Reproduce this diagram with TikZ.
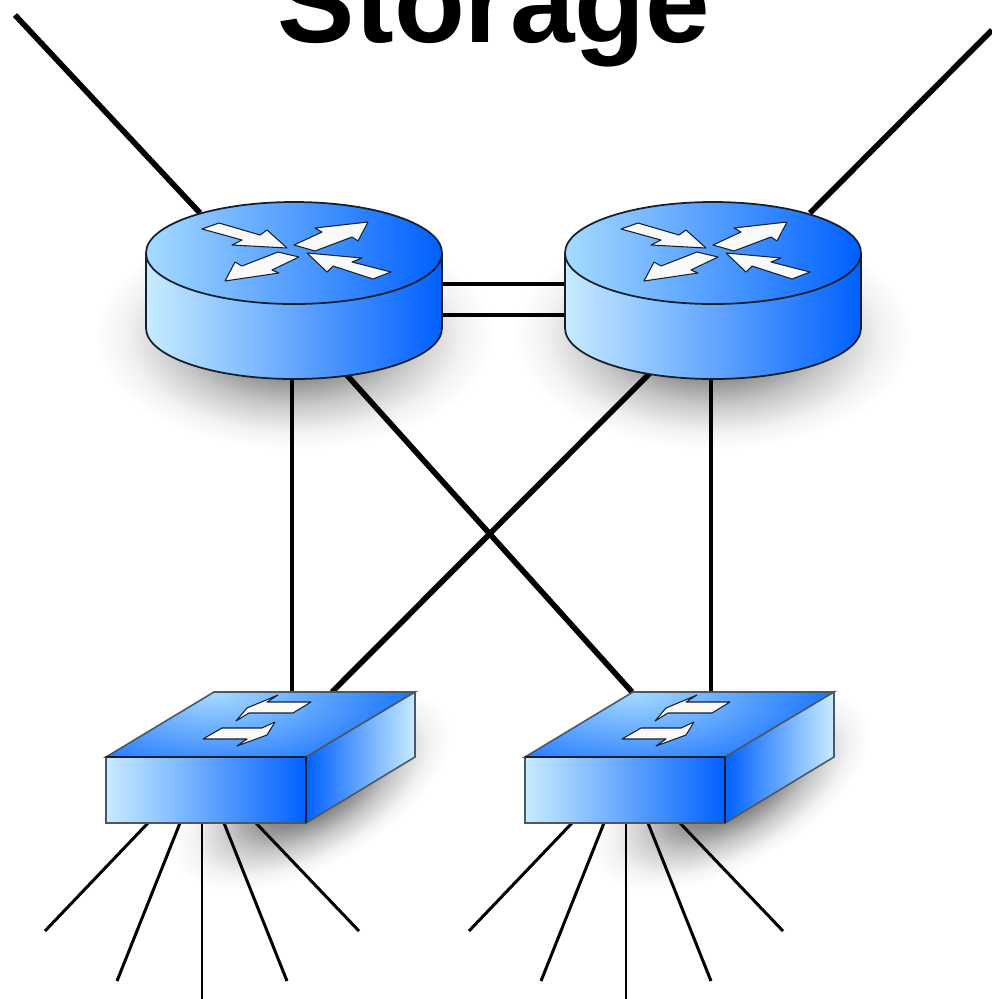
\documentclass[tikz,border=0pt]{standalone}
\usepackage{fontspec}
\setmainfont{Liberation Sans}
\usetikzlibrary{backgrounds}

\definecolor{lightblue}{HTML}{C8ECFF}
\definecolor{topblue}{HTML}{A6DAFF}
\definecolor{midblue}{HTML}{5FA8FF}
\definecolor{deepblue}{HTML}{0060FF}
\definecolor{edgegray}{HTML}{14202C}
\definecolor{swedge}{HTML}{4A5866}

\pgfdeclareradialshading{softshadow}{\pgfpointorigin}{
    color(0bp)=(black!52); color(9bp)=(black!46); color(15bp)=(black!22);
    color(21bp)=(black!5); color(25bp)=(white); color(50bp)=(white)}

\tikzset{
    thickwire/.style={line width=1.6pt, black},
    midwire/.style={line width=1.0pt, black},
    thinwire/.style={line width=0.85pt, black},
    devline/.style={draw=edgegray, line width=0.5pt},
    swline/.style={draw=swedge, line width=0.45pt},
    whitearrow/.style={fill=white!98!black, draw=edgegray, line width=0.3pt, line join=round},
    pics/router/.style={code={
        % body
        \path[devline, left color=lightblue, middle color=midblue, right color=deepblue]
            (-148,0) -- (-148,75) arc[start angle=180, end angle=0, x radius=148, y radius=51]
            -- (148,0) -- cycle;
        % top
        \path[devline, left color=topblue, middle color=midblue, right color=deepblue]
            (0,0) ellipse[x radius=148, y radius=51];
        % arrows
        \path[whitearrow] (-92,-24) -- (-75,-30) -- (-34,-18) -- (-27,-23) -- (-7,-5) -- (-62,-8) -- (-52,-13) -- cycle;
        \path[whitearrow] (0,-8) -- (28,-21) -- (21,-25) -- (74,-31) -- (64,-12) -- (58,-16) -- (21,-2) -- cycle;
        \path[whitearrow] (5,4) -- (-22,17) -- (-15,20) -- (-69,28) -- (-59,9) -- (-52,13) -- (-16,-1) -- cycle;
        \path[whitearrow] (13,0) -- (68,5) -- (58,9) -- (97,19) -- (79,26) -- (39,13) -- (33,19) -- cycle;
        % ports
        \coordinate (-nw) at (-94,-40);
        \coordinate (-ne) at (97,-40);
        \coordinate (-s) at (-2,124);
        \coordinate (-sw) at (-63,120);
        \coordinate (-se) at (51,120);
        \coordinate (-e1) at (148,31);
        \coordinate (-e2) at (148,62);
        \coordinate (-w1) at (-148,31);
        \coordinate (-w2) at (-148,62);
    }},
    pics/switch/.style={code={
        % top
        \begin{scope}
            \clip (0,0) -- (108,-65) -- (309,-65) -- (200,0) -- cycle;
            \fill[deepblue] (0,0) rectangle (309,-65);
            \shade[inner color=topblue, outer color=deepblue] (108,-65) ellipse[x radius=240, y radius=105];
        \end{scope}
        \draw[swline] (0,0) -- (108,-65) -- (309,-65) -- (200,0) -- cycle;
        % front
        \path[swline, left color=lightblue, middle color=midblue, right color=deepblue]
            (0,0) rectangle (200,66);
        % side
        \path[swline, left color=deepblue, middle color=midblue, right color=lightblue]
            (200,0) -- (309,-65) -- (309,0) -- (200,66) -- cycle;
        \draw[devline] (0,0) -- (200,0) -- (200,66);
        % arrows
        \path[whitearrow] (130,-36) -- (141,-49) -- (172,-62) -- (161,-55) -- (205,-55) -- (187,-44) -- (143,-44) -- cycle;
        \path[whitearrow] (97,-18) -- (116,-29) -- (156,-29) -- (169,-35) -- (161,-22) -- (131,-11) -- (141,-18) -- cycle;
        % ports
        \coordinate (-t1) at (186,-65);
        \coordinate (-t2) at (226,-65);
        \coordinate (-t3) at (107,-65);
    }}
}

\begin{document}
\begin{tikzpicture}[x=0.01cm, y=-0.01cm]
    \clip (0,0) rectangle (992,999);

    % title
    \node[anchor=base, inner sep=0pt, font=\fontsize{33}{33}\selectfont\bfseries] (title) at (494,42) {Storage};

    % devices
    \pic (rtrA) at (294,253) {router};
    \pic (rtrB) at (713,253) {router};
    \pic (swA) at (106,757) {switch};
    \pic (swB) at (525,757) {switch};

    % free ends
    \coordinate (wanA) at (15,15);
    \coordinate (wanB) at (992,30);

    \begin{scope}[on background layer]
        % shadows
        \shade[shading=softshadow] (294,335) ellipse[x radius=200, y radius=115];
        \shade[shading=softshadow] (713,335) ellipse[x radius=200, y radius=115];
        \shade[shading=softshadow, transform canvas={rotate around={30:(312,790)}}] (312,790) ellipse[x radius=155, y radius=75];
        \shade[shading=softshadow, transform canvas={rotate around={30:(731,790)}}] (731,790) ellipse[x radius=155, y radius=75];

        % wires
        \draw[thickwire] (wanA) -- (rtrA-nw);
        \draw[thickwire] (wanB) -- (rtrB-ne);
        \draw[midwire] (rtrA-e1) -- (rtrB-w1);
        \draw[midwire] (rtrA-e2) -- (rtrB-w2);
        \draw[midwire] (rtrA-s) -- (swA-t1);
        \draw[midwire] (rtrB-s) -- (swB-t1);
        \draw[thickwire] (rtrA-se) -- (swB-t3);
        \draw[thickwire] (rtrB-sw) -- (swA-t2);

        % fans
        \foreach \n/\px/\ex/\ey in {1/148/45/931, 2/180/117/981, 3/202/202/999, 4/224/287/981, 5/256/359/931} {
            \coordinate (fanA\n) at (\px,823);
            \coordinate (leafA\n) at (\ex,\ey);
            \draw[thinwire] (fanA\n) -- (leafA\n);
            \coordinate (fanB\n) at (\px+424,823);
            \coordinate (leafB\n) at (\ex+424,\ey);
            \draw[thinwire] (fanB\n) -- (leafB\n);
        }
    \end{scope}
\end{tikzpicture}
\end{document}
